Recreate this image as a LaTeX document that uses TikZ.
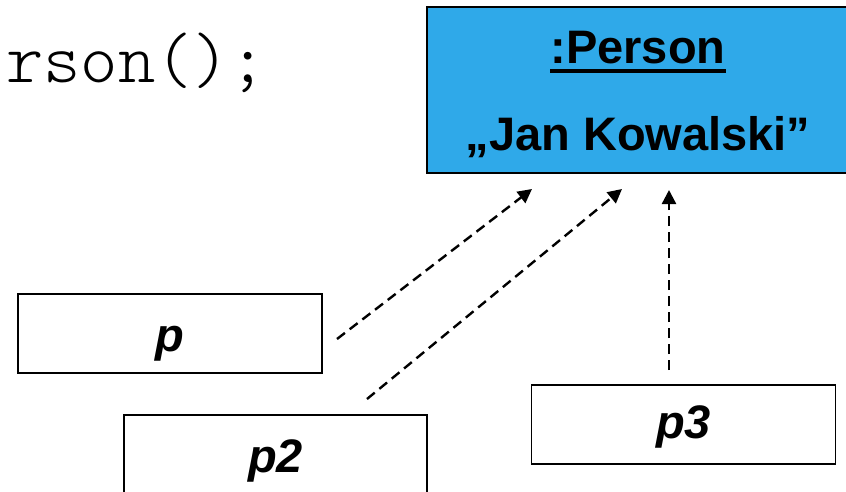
\documentclass[tikz,border=0pt]{standalone}
\usepackage{fontspec}
\setmainfont{Liberation Sans}
\newfontfamily\codefont{Latin Modern Mono Light}
\usetikzlibrary{arrows.meta}
\definecolor{objblue}{RGB}{47,169,233}
\begin{document}
\begin{tikzpicture}[x=1pt,y=-1pt,
  varbox/.style={draw=black,line width=1.5pt,minimum width=304pt,minimum height=79pt,
    inner sep=0pt,text height=35pt,text depth=0pt,
    font=\fontsize{47}{50}\selectfont\bfseries\itshape},
  objtext/.style={inner sep=0pt,anchor=base,font=\fontsize{47}{50}\selectfont\bfseries},
  refarrow/.style={line width=2.4pt,dash pattern=on 10pt off 6pt,
    -{Triangle[length=14pt,width=14pt]}}]
\useasboundingbox (0,0) rectangle (846,491);
\clip (0,0) rectangle (846,491);
% code fragment
\node[inner sep=0pt,anchor=base west,font=\codefont\fontsize{71}{72}\selectfont] (code) at (6,82) {rson();};
% object box
\node[draw=black,line width=2pt,fill=objblue,minimum width=423pt,minimum height=166pt,inner sep=0pt] (obj) at (638.5,90) {};
\node[objtext] (title) at (638,63) {:Person};
\draw[line width=3.5pt] ([yshift=-8pt]title.base west) -- ([yshift=-8pt]title.base east);
\node[objtext] (val) at (638,150) {„Jan Kowalski”};
% reference variables
\node[varbox] (p) at (170,333.5) {p};
\node[varbox,minimum width=303pt] (p2) at (275.5,454.5) {p2};
\node[varbox,text height=27pt] (p3) at (683.5,424.5) {p3};
% connector ends
\coordinate (s1) at (337,339);
\coordinate (e1) at (532,189);
\coordinate (s2) at (367,399);
\coordinate (e2) at (622,189);
\coordinate (s3) at (669,370);
\coordinate (e3) at (669,190);
\draw[refarrow] (s1) -- (e1);
\draw[refarrow] (s2) -- (e2);
\draw[refarrow] (s3) -- (e3);
\end{tikzpicture}
\end{document}
